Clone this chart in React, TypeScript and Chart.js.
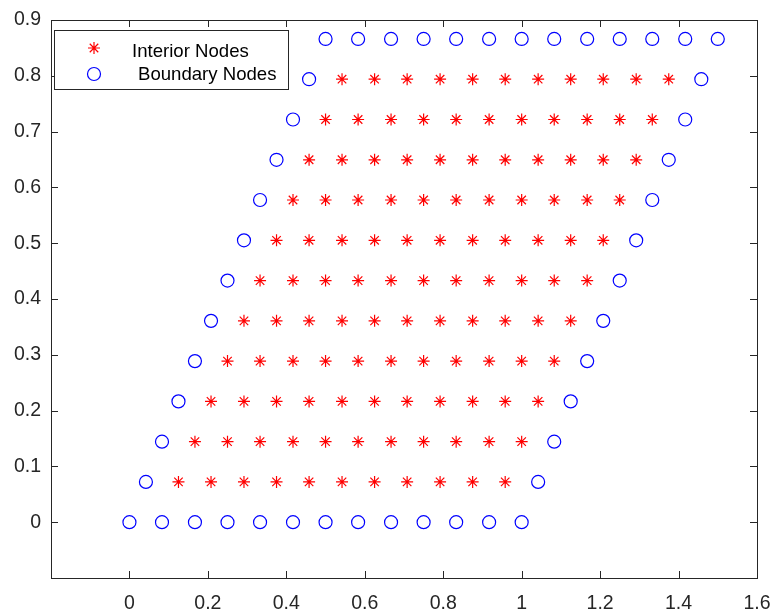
import React, { useEffect, useRef } from "react";
import { Chart, registerables } from "chart.js";

Chart.register(...registerables);

// y-value of each mesh row
const rowY = [0, 0.0722, 0.1443, 0.2165, 0.2887, 0.3608, 0.433, 0.5052, 0.5774, 0.6495, 0.7217, 0.7939, 0.866];

// x-values of the nodes in each mesh row
const rowX: number[][] = [
  [0, 0.083, 0.167, 0.25, 0.333, 0.417, 0.5, 0.583, 0.667, 0.75, 0.833, 0.917, 1],
  [0.042, 0.125, 0.208, 0.292, 0.375, 0.458, 0.542, 0.625, 0.708, 0.792, 0.875, 0.958, 1.042],
  [0.083, 0.167, 0.25, 0.333, 0.417, 0.5, 0.583, 0.667, 0.75, 0.833, 0.917, 1, 1.083],
  [0.125, 0.208, 0.292, 0.375, 0.458, 0.542, 0.625, 0.708, 0.792, 0.875, 0.958, 1.042, 1.125],
  [0.167, 0.25, 0.333, 0.417, 0.5, 0.583, 0.667, 0.75, 0.833, 0.917, 1, 1.083, 1.167],
  [0.208, 0.292, 0.375, 0.458, 0.542, 0.625, 0.708, 0.792, 0.875, 0.958, 1.042, 1.125, 1.208],
  [0.25, 0.333, 0.417, 0.5, 0.583, 0.667, 0.75, 0.833, 0.917, 1, 1.083, 1.167, 1.25],
  [0.292, 0.375, 0.458, 0.542, 0.625, 0.708, 0.792, 0.875, 0.958, 1.042, 1.125, 1.208, 1.292],
  [0.333, 0.417, 0.5, 0.583, 0.667, 0.75, 0.833, 0.917, 1, 1.083, 1.167, 1.25, 1.333],
  [0.375, 0.458, 0.542, 0.625, 0.708, 0.792, 0.875, 0.958, 1.042, 1.125, 1.208, 1.292, 1.375],
  [0.417, 0.5, 0.583, 0.667, 0.75, 0.833, 0.917, 1, 1.083, 1.167, 1.25, 1.333, 1.417],
  [0.458, 0.542, 0.625, 0.708, 0.792, 0.875, 0.958, 1.042, 1.125, 1.208, 1.292, 1.375, 1.458],
  [0.5, 0.583, 0.667, 0.75, 0.833, 0.917, 1, 1.083, 1.167, 1.25, 1.333, 1.417, 1.5],
];

const xTicks = [0, 0.2, 0.4, 0.6, 0.8, 1, 1.2, 1.4, 1.6];
const yTicks = [0, 0.1, 0.2, 0.3, 0.4, 0.5, 0.6, 0.7, 0.8, 0.9];
const legendLabels = ["Interior Nodes", "Boundary Nodes"];

const FONT = "'Liberation Sans', Arial, sans-serif";
const AXIS = "#262626";

type P = { x: number; y: number };

function buildNodes() {
  const interior: P[] = [];
  const boundary: P[] = [];
  const last = rowY.length - 1;
  rowY.forEach((y, k) => {
    const xs = rowX[k];
    xs.forEach((x, j) => {
      const isB = k === 0 || k === last || j === 0 || j === xs.length - 1;
      (isB ? boundary : interior).push({ x, y });
    });
  });
  return { interior, boundary };
}

function drawStar(ctx: CanvasRenderingContext2D, x: number, y: number, r: number) {
  ctx.beginPath();
  for (let i = 0; i < 4; i++) {
    const a = (i * Math.PI) / 4;
    ctx.moveTo(x - Math.cos(a) * r, y - Math.sin(a) * r);
    ctx.lineTo(x + Math.cos(a) * r, y + Math.sin(a) * r);
  }
  ctx.stroke();
}

const framePlugin = {
  id: "frame",
  afterDraw(chart: any) {
    const { ctx, chartArea: a, scales } = chart;
    ctx.save();
    ctx.strokeStyle = AXIS;
    ctx.lineWidth = 1;
    ctx.strokeRect(Math.round(a.left) + 0.5, Math.round(a.top) + 0.5, Math.round(a.right - a.left), Math.round(a.bottom - a.top));
    const tl = 7;
    ctx.beginPath();
    xTicks.forEach((v) => {
      const px = Math.round(scales.x.getPixelForValue(v)) + 0.5;
      ctx.moveTo(px, a.bottom);
      ctx.lineTo(px, a.bottom - tl);
      ctx.moveTo(px, a.top);
      ctx.lineTo(px, a.top + tl);
    });
    yTicks.forEach((v) => {
      const py = Math.round(scales.y.getPixelForValue(v)) + 0.5;
      ctx.moveTo(a.left, py);
      ctx.lineTo(a.left + tl, py);
      ctx.moveTo(a.right, py);
      ctx.lineTo(a.right - tl, py);
    });
    ctx.stroke();

    // legend
    const bx = 54.5, by = 30.5, bw = 234, bh = 59;
    ctx.fillStyle = "#ffffff";
    ctx.fillRect(bx, by, bw, bh);
    ctx.strokeStyle = AXIS;
    ctx.strokeRect(bx, by, bw, bh);
    ctx.lineWidth = 1.2;
    ctx.strokeStyle = "#ff0000";
    drawStar(ctx, 94, 48, 6);
    ctx.strokeStyle = "#0000ff";
    ctx.beginPath();
    ctx.arc(94, 74, 6.5, 0, Math.PI * 2);
    ctx.stroke();
    ctx.fillStyle = "#000000";
    ctx.font = `18.6px ${FONT}`;
    ctx.textBaseline = "alphabetic";
    ctx.textAlign = "left";
    ctx.fillText(legendLabels[0], 132, 57);
    ctx.fillText(legendLabels[1], 138, 80);
    ctx.restore();
  },
};

export default function App() {
  const ref = useRef<HTMLCanvasElement>(null);
  useEffect(() => {
    const { interior, boundary } = buildNodes();
    const chart = new Chart(ref.current!, {
      type: "scatter",
      data: {
        datasets: [
          {
            label: legendLabels[0],
            data: interior,
            pointStyle: "star",
            pointRadius: 6,
            pointBorderWidth: 1.2,
            borderColor: "#ff0000",
            backgroundColor: "#ff0000",
          },
          {
            label: legendLabels[1],
            data: boundary,
            pointStyle: "circle",
            pointRadius: 6.5,
            pointBorderWidth: 1.2,
            borderColor: "#0000ff",
            backgroundColor: "rgba(0,0,0,0)",
          },
        ],
      },
      options: {
        animation: false,
        responsive: false,
        layout: { padding: { top: 20, right: 14, left: 0, bottom: 0 } },
        plugins: { legend: { display: false }, tooltip: { enabled: false } },
        scales: {
          x: {
            type: "linear",
            min: -0.2,
            max: 1.6,
            grid: { display: false },
            border: { display: false },
            afterBuildTicks: (s: any) => {
              s.ticks = xTicks.map((v) => ({ value: v }));
            },
            afterFit: (s: any) => {
              s.height = 34;
              s.paddingLeft = 0;
              s.paddingRight = 0;
            },
            ticks: {
              padding: 6,
              color: AXIS,
              font: { family: FONT, size: 19.5 },
              maxRotation: 0,
              callback: (v: any) => String(+Number(v).toFixed(1)),
            },
          },
          y: {
            type: "linear",
            min: -0.1,
            max: 0.9,
            grid: { display: false },
            border: { display: false },
            afterBuildTicks: (s: any) => {
              s.ticks = yTicks.map((v) => ({ value: v }));
            },
            afterFit: (s: any) => {
              s.width = 51;
              s.paddingTop = 0;
              s.paddingBottom = 0;
            },
            ticks: {
              padding: 2,
              color: AXIS,
              font: { family: FONT, size: 19.5 },
              callback: (v: any) => String(+Number(v).toFixed(1)),
            },
          },
        },
      },
      plugins: [framePlugin],
    });
    return () => chart.destroy();
  }, []);
  return (
    <div style={{ position: "fixed", left: 0, top: 0, width: 771, height: 612, background: "#fff" }}>
      <canvas ref={ref} width={771} height={612} />
    </div>
  );
}
